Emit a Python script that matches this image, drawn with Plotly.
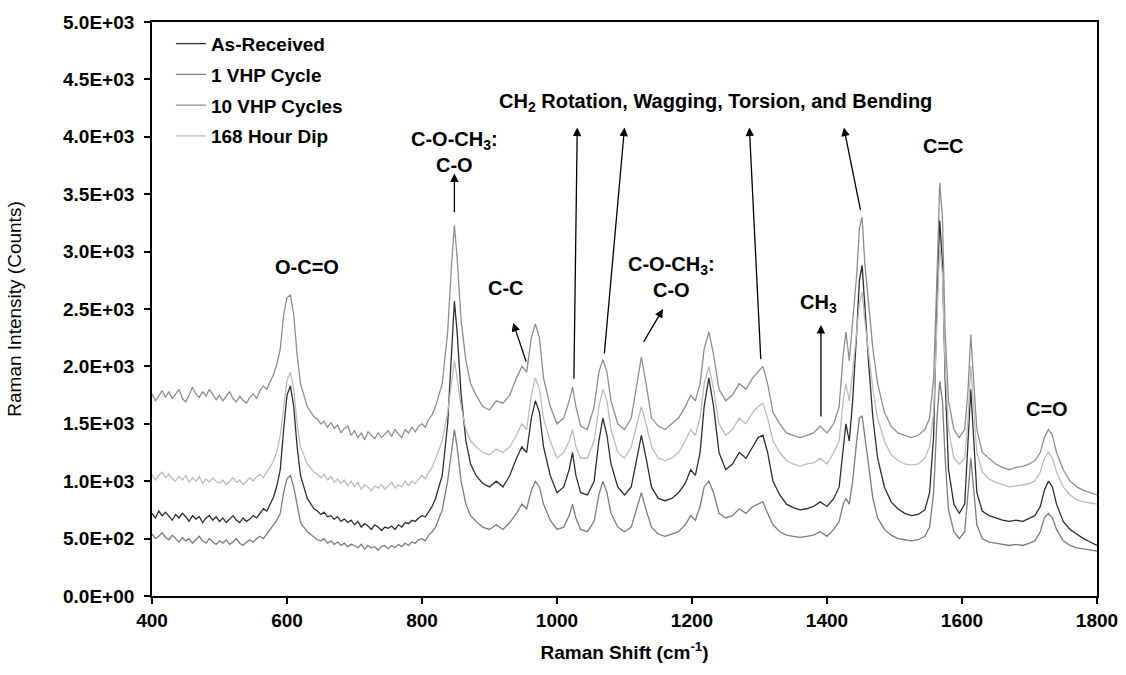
import plotly.graph_objects as go

# ---------------- data ----------------
raman_shift = [
    400, 405, 410, 415, 420, 425, 430, 435, 440, 445, 450, 455, 460, 465, 470, 475, 480, 485, 490, 495,
    500, 505, 510, 515, 520, 525, 530, 535, 540, 545, 550, 555, 560, 565, 570, 575, 580, 585, 590,
    595, 600, 605, 610, 615, 620, 630,
    640, 645, 650, 655, 660, 665, 670, 675, 680, 685, 690, 695, 700, 705, 710, 715, 720, 725, 730, 735,
    740, 745, 750, 755, 760, 765, 770, 775, 780, 785, 790, 795, 800, 805, 810, 815, 820,
    830, 838, 844, 848, 852, 858, 865, 872, 880, 890, 900, 910, 920, 930, 940,
    948, 955, 962, 968, 974, 980, 990,
    1000, 1010, 1018, 1023, 1028, 1035, 1045, 1055, 1062, 1068,
    1074, 1080, 1090, 1100, 1110, 1118, 1125, 1132, 1140, 1150,
    1160, 1170, 1180, 1190, 1198, 1205, 1212, 1218, 1225, 1232,
    1240, 1250, 1260, 1270, 1280, 1290, 1298, 1305, 1312, 1320,
    1330, 1340, 1350, 1360, 1370, 1380, 1390, 1400, 1410,
    1418, 1424, 1428, 1433, 1438, 1444, 1448, 1452, 1456, 1462,
    1468, 1475, 1485, 1495, 1505, 1515, 1525, 1535, 1545, 1552,
    1558, 1563, 1567, 1571, 1575, 1580, 1588, 1596, 1604, 1609,
    1613, 1617, 1622, 1630, 1640, 1650, 1660, 1670, 1680, 1690,
    1700, 1708, 1716, 1722, 1728, 1734, 1740, 1750, 1760, 1770,
    1780, 1790, 1800,
]

as_received = [
    720, 680, 740, 700, 730, 690, 660, 710, 680, 720, 690, 650, 700, 670, 690, 640, 680, 700, 660, 690,
    650, 680, 640, 670, 700, 660, 640, 680, 650, 670, 700, 680, 720, 760, 740, 800, 860, 960, 1100,
    1450, 1750, 1830, 1650, 1300, 1050, 850,
    760, 740, 710, 730, 690, 700, 670, 690, 650, 670, 640, 660, 620, 650, 600, 630, 610, 580, 620, 600,
    570, 600, 590, 610, 580, 620, 600, 640, 630, 660, 650, 680, 700, 690, 740, 780, 850,
    1050, 1500, 2100, 2570, 2300, 1750, 1350, 1150, 1050, 980, 950, 1000, 950, 1050, 1200,
    1300, 1250, 1550, 1700, 1600, 1300, 1050,
    900, 950, 1100, 1250, 1050, 900, 880, 1000, 1350, 1550,
    1400, 1150, 950, 880, 950, 1200, 1400, 1200, 950, 850,
    830, 850, 900, 980, 1100, 1050, 1250, 1650, 1900, 1650,
    1250, 1100, 1150, 1250, 1200, 1300, 1380, 1400, 1250, 1000,
    880, 800, 770, 750, 760, 780, 820, 780, 850,
    950, 1300, 1500, 1350, 1700, 2300, 2750, 2880, 2500, 2000,
    1550, 1200, 950, 820, 760, 720, 700, 710, 750, 900,
    1400, 2600, 3270, 2900, 1900, 1100, 800, 720, 800, 1300,
    1800, 1400, 900, 740, 700, 680, 660, 650, 660, 650,
    680, 700, 780, 920, 1000, 950, 800, 650, 580, 540,
    500, 470, 440,
]

vhp_1_cycle = [
    540, 500, 520, 550, 510, 490, 530, 500, 470, 510, 480, 500, 460, 490, 520, 480, 460, 500, 470, 450,
    480, 460, 490, 450, 470, 500, 460, 440, 470, 490, 470, 500, 520, 500, 540, 570, 620, 660, 720,
    900, 1020, 1050, 950, 780, 640, 560,
    510, 490, 480, 500, 460, 480, 450, 470, 440, 460, 430, 450, 440, 420, 450, 410, 440, 420, 430, 400,
    430, 440, 410, 440, 420, 450, 430, 460, 440, 470, 460, 490, 500, 480, 530, 560, 600,
    750, 1000, 1300, 1450, 1300, 1000, 800, 700, 650, 600, 580, 620, 580, 640, 720,
    800, 760, 920, 1000, 950, 800, 660,
    580, 600, 700, 800, 680, 580, 560, 650, 880, 1000,
    900, 720, 600, 560, 600, 750, 900, 750, 600, 540,
    520, 540, 560, 620, 700, 660, 780, 950, 1000, 900,
    720, 680, 700, 760, 720, 780, 800, 820, 720, 620,
    560, 530, 520, 510, 520, 530, 560, 520, 580,
    650, 800, 850, 800, 1000, 1350, 1550, 1570, 1400, 1100,
    850, 680, 580, 530, 500, 490, 480, 490, 520, 600,
    900, 1550, 1870, 1700, 1200, 750, 560, 500, 560, 900,
    1200, 950, 620, 500, 470, 460, 450, 440, 450, 440,
    460, 480, 560, 680, 720, 680, 580, 480, 440, 420,
    410, 400, 390,
]

vhp_10_cycles = [
    1760, 1700, 1740, 1790, 1730, 1780, 1720, 1760, 1800, 1720, 1690, 1750, 1820, 1760, 1730, 1780, 1740, 1800, 1760, 1710,
    1750, 1700, 1740, 1780, 1720, 1690, 1740, 1700, 1680, 1730, 1760, 1720, 1790, 1830, 1800, 1870, 1930, 2020, 2150,
    2450, 2600, 2620, 2450, 2100, 1850, 1650,
    1560, 1540, 1500, 1520, 1470, 1510, 1460, 1490, 1420, 1460, 1480, 1400, 1440, 1380, 1420, 1360, 1430, 1400, 1370, 1420,
    1380, 1410, 1440, 1390, 1450, 1410, 1380, 1450, 1420, 1470, 1430, 1480, 1500, 1470, 1540, 1580, 1650,
    1850, 2300, 2900, 3230, 2950, 2400, 2050, 1850, 1750, 1650, 1620, 1700, 1680, 1750, 1900,
    2000, 1950, 2250, 2370, 2250, 1900, 1650,
    1500, 1550, 1700, 1820, 1650, 1480, 1450, 1650, 1950, 2060,
    1950, 1700, 1500, 1450, 1550, 1850, 2080, 1850, 1550, 1480,
    1450, 1500, 1550, 1650, 1750, 1700, 1850, 2150, 2300, 2100,
    1800, 1700, 1750, 1850, 1800, 1900, 1950, 2000, 1850, 1600,
    1500, 1420, 1400, 1380, 1400, 1420, 1480, 1420, 1500,
    1650, 2100, 2300, 2050, 2400, 2800, 3200, 3300, 2900, 2500,
    2150, 1850, 1600, 1480, 1420, 1400, 1380, 1400, 1450, 1550,
    1900, 2800, 3600, 3300, 2300, 1700, 1450, 1380, 1450, 1800,
    2280, 1900, 1450, 1250, 1200, 1150, 1120, 1100, 1120, 1130,
    1150, 1180, 1250, 1380, 1450, 1400, 1250, 1100, 1000, 950,
    920, 900, 880,
]

hour_168_dip = [
    1060, 1010, 1050, 1080, 1030, 1060, 1020, 1000, 1040, 1010, 1050, 990, 1030, 1000, 1040, 980, 1020, 990, 1030, 1000,
    980, 1010, 970, 1000, 1030, 990, 1010, 970, 1000, 1030, 1000, 1040, 1060, 1030, 1080, 1120, 1180, 1260, 1400,
    1650, 1880, 1950, 1800, 1500, 1300, 1150,
    1080, 1060, 1030, 1060, 1010, 1040, 990, 1020, 980, 1010, 960, 1000, 950, 990, 930, 970, 950, 920, 960, 940,
    970, 930, 960, 990, 940, 970, 950, 1000, 960, 1000, 980, 1020, 1050, 1020, 1080, 1120, 1200,
    1350, 1600, 1850, 2050, 1900, 1650, 1450, 1350, 1300, 1250, 1230, 1280, 1250, 1300, 1400,
    1500, 1450, 1750, 1900, 1800, 1550, 1350,
    1200, 1250, 1350, 1450, 1300, 1200, 1200, 1350, 1650, 1800,
    1700, 1450, 1250, 1200, 1300, 1500, 1650, 1500, 1300, 1200,
    1180, 1200, 1250, 1350, 1450, 1400, 1550, 1850, 2000, 1800,
    1500, 1400, 1450, 1550, 1500, 1600, 1650, 1680, 1550, 1350,
    1250, 1180, 1150, 1130, 1150, 1160, 1200, 1150, 1250,
    1350, 1700, 1850, 1700, 1950, 2300, 2550, 2650, 2400, 2100,
    1800, 1550, 1350, 1230, 1180, 1150, 1140, 1150, 1200, 1300,
    1600, 2400, 3050, 2800, 2000, 1450, 1200, 1150, 1200, 1550,
    2000, 1650, 1250, 1080, 1020, 990, 970, 950, 960, 970,
    980, 1000, 1080, 1200, 1250, 1200, 1080, 950, 880, 840,
    820, 810, 800,
]

series_names = ["As-Received", "1 VHP Cycle", "10 VHP Cycles", "168 Hour Dip"]
series_values = [as_received, vhp_1_cycle, vhp_10_cycles, hour_168_dip]
series_colors = ["#2e2e2e", "#7c7c7c", "#8e8e8e", "#bcbcbc"]

x_tick_vals = [400, 600, 800, 1000, 1200, 1400, 1600, 1800]
y_tick_vals = [0, 500, 1000, 1500, 2000, 2500, 3000, 3500, 4000, 4500, 5000]
y_tick_text = ["0.0E+00", "5.0E+02", "1.0E+03", "1.5E+03", "2.0E+03", "2.5E+03",
               "3.0E+03", "3.5E+03", "4.0E+03", "4.5E+03", "5.0E+03"]

for v in series_values:
    assert len(v) == len(raman_shift), (len(v), len(raman_shift))

FONT = "Liberation Sans, Arial, sans-serif"

fig = go.Figure()
for name, vals, col in zip(series_names, series_values, series_colors):
    fig.add_trace(go.Scatter(
        x=raman_shift, y=vals, mode="lines", name=name,
        line=dict(color=col, width=1.3), legendgroup=name,
    ))

annotations = []

def label(text, x, y, size=20):
    annotations.append(dict(
        text="<b>%s</b>" % text, x=x, y=y, xref="x", yref="y",
        showarrow=False, align="center",
        font=dict(family=FONT, size=size, color="black"),
    ))

def arrow(tail_x, tail_y, head_x, head_y):
    annotations.append(dict(
        text="", x=head_x, y=head_y, ax=tail_x, ay=tail_y,
        xref="x", yref="y", axref="x", ayref="y",
        showarrow=True, arrowhead=2, arrowsize=1.3, arrowwidth=1.3,
        arrowcolor="black", standoff=0, startstandoff=0,
    ))

label("O-C=O", 630, 2870)
label("C-O-CH<sub>3</sub>:<br>C-O", 848, 3870)
arrow(848, 3330, 848, 3680)
label("C-C", 925, 2680)
arrow(955, 2030, 935, 2380)
label("CH<sub>2</sub> Rotation, Wagging, Torsion, and Bending", 1235, 4300)
arrow(1025, 1880, 1030, 4080)
arrow(1070, 2100, 1100, 4080)
arrow(1302, 2050, 1285, 4080)
arrow(1450, 3350, 1425, 4080)
label("C-O-CH<sub>3</sub>:<br>C-O", 1170, 2780)
arrow(1127, 2200, 1157, 2500)
label("CH<sub>3</sub>", 1388, 2550)
arrow(1391, 1550, 1391, 2360)
label("C=C", 1572, 3920)
label("C=O", 1726, 1630)

axis_common = dict(
    showline=True, linecolor="black", linewidth=1.8, mirror=True,
    ticks="outside", ticklen=6, tickwidth=1.5, tickcolor="black",
    showgrid=False, zeroline=False, automargin=False,
    tickfont=dict(family=FONT, size=19, color="black", weight="bold"),
)

fig.update_layout(
    width=1126, height=675,
    margin=dict(l=152, r=29, t=22, b=79),
    paper_bgcolor="white", plot_bgcolor="white",
    showlegend=True,
    legend=dict(
        x=0.02, y=0.995, xanchor="left", yanchor="top",
        bgcolor="rgba(0,0,0,0)", borderwidth=0,
        font=dict(family=FONT, size=19, color="black", weight="bold"),
        tracegroupgap=3, itemwidth=30,
    ),
    xaxis=dict(
        range=[400, 1800], tickvals=x_tick_vals,
        title=dict(text="<b>Raman Shift (cm<sup>-1</sup>)</b>",
                   font=dict(family=FONT, size=19, color="black"), standoff=16),
        **axis_common,
    ),
    yaxis=dict(
        range=[0, 5000], tickvals=y_tick_vals, ticktext=y_tick_text,
        ticklabelstandoff=6,
        title=dict(text="Raman Intensity (Counts)",
                   font=dict(family=FONT, size=19, color="black"), standoff=36),
        **axis_common,
    ),
    annotations=annotations,
)

fig.write_html("out.html")
